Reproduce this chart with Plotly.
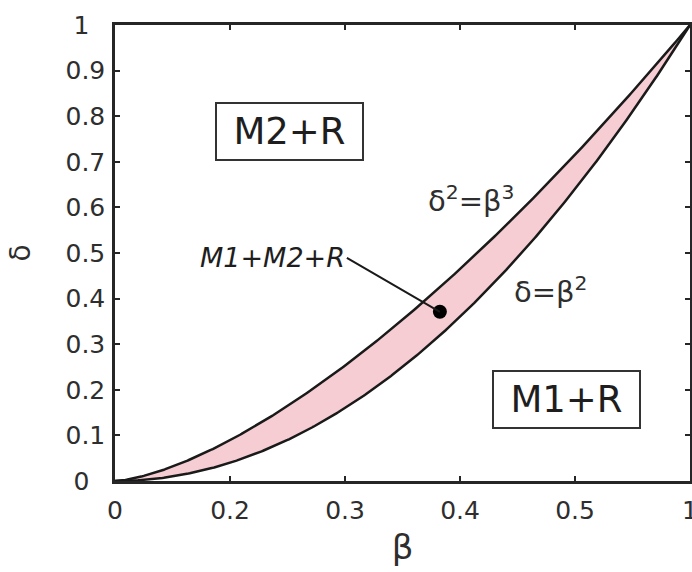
import numpy as np
import plotly.graph_objects as go

# Boundary curves of the coexistence region
beta = np.linspace(0.0, 1.0, 401)
lower_exp = 2.0      # delta = beta^2
upper_exp = 1.5      # delta^2 = beta^3
delta_lower = beta ** lower_exp
delta_upper = beta ** upper_exp

# Marked example point inside the band
point_beta = [0.565]
point_delta = [0.371]

x_tickvals = [0, 0.2, 0.4, 0.6, 0.8, 1.0]
x_ticktext = ["0", "0.2", "0.3", "0.4", "0.5", "1"]
y_tickvals = [0, 0.1, 0.2, 0.3, 0.4, 0.5, 0.6, 0.7, 0.8, 0.9, 1.0]
y_ticktext = ["0\u00a0\u00a0", "0.1", "0.2", "0.3", "0.4", "0.5",
              "0.6", "0.7", "0.8", "0.9", "1\u00a0\u00a0"]

FONT = "DejaVu Sans"
INK = "#1a1a1a"
TXT = "#2e2e2e"
PINK = "#f5cdd3"

fig = go.Figure()
fig.add_trace(go.Scatter(x=beta, y=delta_lower, mode="lines",
                         line=dict(color=INK, width=2.5), hoverinfo="skip"))
fig.add_trace(go.Scatter(x=beta, y=delta_upper, mode="lines", fill="tonexty",
                         fillcolor=PINK, line=dict(color=INK, width=2.5),
                         hoverinfo="skip"))
fig.add_trace(go.Scatter(x=point_beta, y=point_delta, mode="markers",
                         marker=dict(color="black", size=14), hoverinfo="skip"))

axis_common = dict(
    showgrid=False, zeroline=False, showline=True, linecolor="#262626",
    linewidth=2.5, mirror="allticks", ticks="inside", ticklen=5, tickwidth=1.5,
    tickcolor="#262626", tickfont=dict(family=FONT, size=25, color=TXT),
    automargin=False, ticklabeloverflow="allow",
)

fig.update_layout(
    width=692, height=572,
    margin=dict(l=115, r=2, t=25, b=91),
    paper_bgcolor="white", plot_bgcolor="white",
    showlegend=False,
    font=dict(family=FONT, color=TXT),
    xaxis=dict(range=[0, 1], tickvals=x_tickvals, ticktext=x_ticktext,
               ticklabelstandoff=5,
               title=dict(text="β", font=dict(family=FONT, size=34, color=TXT),
                          standoff=12),
               **axis_common),
    yaxis=dict(range=[0, 1], tickvals=y_tickvals, ticktext=y_ticktext,
               ticklabelstandoff=2,
               title=dict(text="δ", font=dict(family=FONT, size=28, color=TXT),
                          standoff=27),
               **axis_common),
)

# Region labels
box = dict(showarrow=False, bordercolor="#333333", borderwidth=2,
           borderpad=2, bgcolor="white", width=141, height=51,
           font=dict(family=FONT, size=37, color="#1e1e1e"))
fig.add_annotation(x=0.304, y=0.766, text="M2+R", **box)
fig.add_annotation(x=0.786, y=0.178, text="M1+R", **box)

# Curve labels
fig.add_annotation(x=0.619, y=0.619, text="δ<sup>2</sup>=β<sup>3</sup>",
                   showarrow=False, font=dict(family=FONT, size=29, color=TXT))
fig.add_annotation(x=0.757, y=0.419, text="δ=β<sup>2</sup>",
                   showarrow=False, font=dict(family=FONT, size=29, color=TXT))

# Leader from the band label to the marked point
fig.add_annotation(x=point_beta[0], y=point_delta[0],
                   text="<i>M1+M2+R</i>", showarrow=True, arrowhead=0,
                   arrowwidth=2, arrowcolor=INK, standoff=0,
                   ax=-93, ay=-54, xanchor="right", yanchor="middle",
                   font=dict(family=FONT, size=27, color="#1e1e1e"))

fig.write_html("out.html")
